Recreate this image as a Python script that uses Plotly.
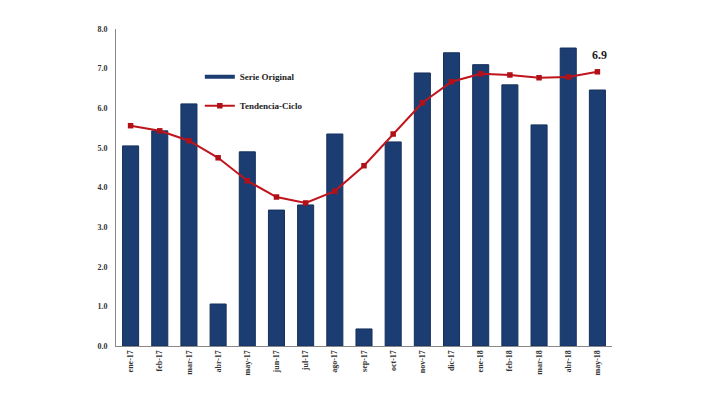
import plotly.graph_objects as go

categories = ["ene-17", "feb-17", "mar-17", "abr-17", "may-17", "jun-17", "jul-17", "ago-17",
              "sep-17", "oct-17", "nov-17", "dic-17", "ene-18", "feb-18", "mar-18", "abr-18", "may-18"]
serie_original = [5.05, 5.43, 6.11, 1.06, 4.90, 3.43, 3.56, 5.35, 0.43, 5.15, 6.89, 7.40, 7.10,
                  6.59, 5.58, 7.52, 6.46]
tendencia_ciclo = [5.56, 5.43, 5.18, 4.75, 4.17, 3.76, 3.61, 3.91, 4.55, 5.35, 6.14, 6.67, 6.87,
                   6.84, 6.77, 6.79, 6.92]
y_ticks = [0, 1, 2, 3, 4, 5, 6, 7, 8]

font_family = "Liberation Serif, Times New Roman, serif"
bar_color = "#1c3d72"
line_color = "#c0141c"

fig = go.Figure()
fig.add_trace(go.Bar(
    x=categories, y=serie_original, name="Serie Original", showlegend=False,
    marker=dict(color=bar_color, line=dict(color="#14305c", width=1)),
))
# legend entry for the bars, drawn as a short thick line like the reference
fig.add_trace(go.Scatter(
    x=[None], y=[None], name="<b>Serie Original</b>", mode="lines",
    line=dict(color=bar_color, width=4), legendgroup="a",
))
fig.add_trace(go.Scatter(
    x=categories, y=tendencia_ciclo, name="<b>Tendencia-Ciclo</b>", mode="lines+markers",
    line=dict(color=line_color, width=2), legendgroup="b",
    marker=dict(symbol="square", size=5.5, color="#b01018"),
))
fig.add_annotation(
    x=categories[-1], y=tendencia_ciclo[-1], text="<b>%.1f</b>" % tendencia_ciclo[-1],
    showarrow=False, yshift=17, xshift=2,
    font=dict(family=font_family, size=12, color="#222222"),
)

fig.update_layout(
    width=702, height=395,
    margin=dict(l=108, r=98, t=21, b=57),
    paper_bgcolor="white", plot_bgcolor="white",
    bargap=0.45,
    showlegend=True,
    legend=dict(x=0.169, y=0.895, xanchor="left", yanchor="top",
                bgcolor="rgba(0,0,0,0)", tracegroupgap=10,
                font=dict(family=font_family, size=9, color="#222222")),
    font=dict(family=font_family, size=8, color="#333333"),
)
fig.update_xaxes(
    range=[-0.5, len(categories) - 0.5],
    showline=True, linecolor="#888888", linewidth=1,
    tickangle=-90, ticks="", showgrid=False, automargin=False,
    tickvals=categories, ticktext=["<b>%s</b>" % c for c in categories],
    tickfont=dict(family=font_family, size=8, color="#333333"),
)
fig.update_yaxes(
    range=[0, 8], tickvals=y_ticks, ticktext=["<b>%.1f</b>" % v for v in y_ticks],
    showline=True, linecolor="#888888", linewidth=1,
    showgrid=False, zeroline=False, ticks="", automargin=False,
    ticklabelstandoff=6,
    tickfont=dict(family=font_family, size=8, color="#333333"),
)

fig.write_html("out.html")
